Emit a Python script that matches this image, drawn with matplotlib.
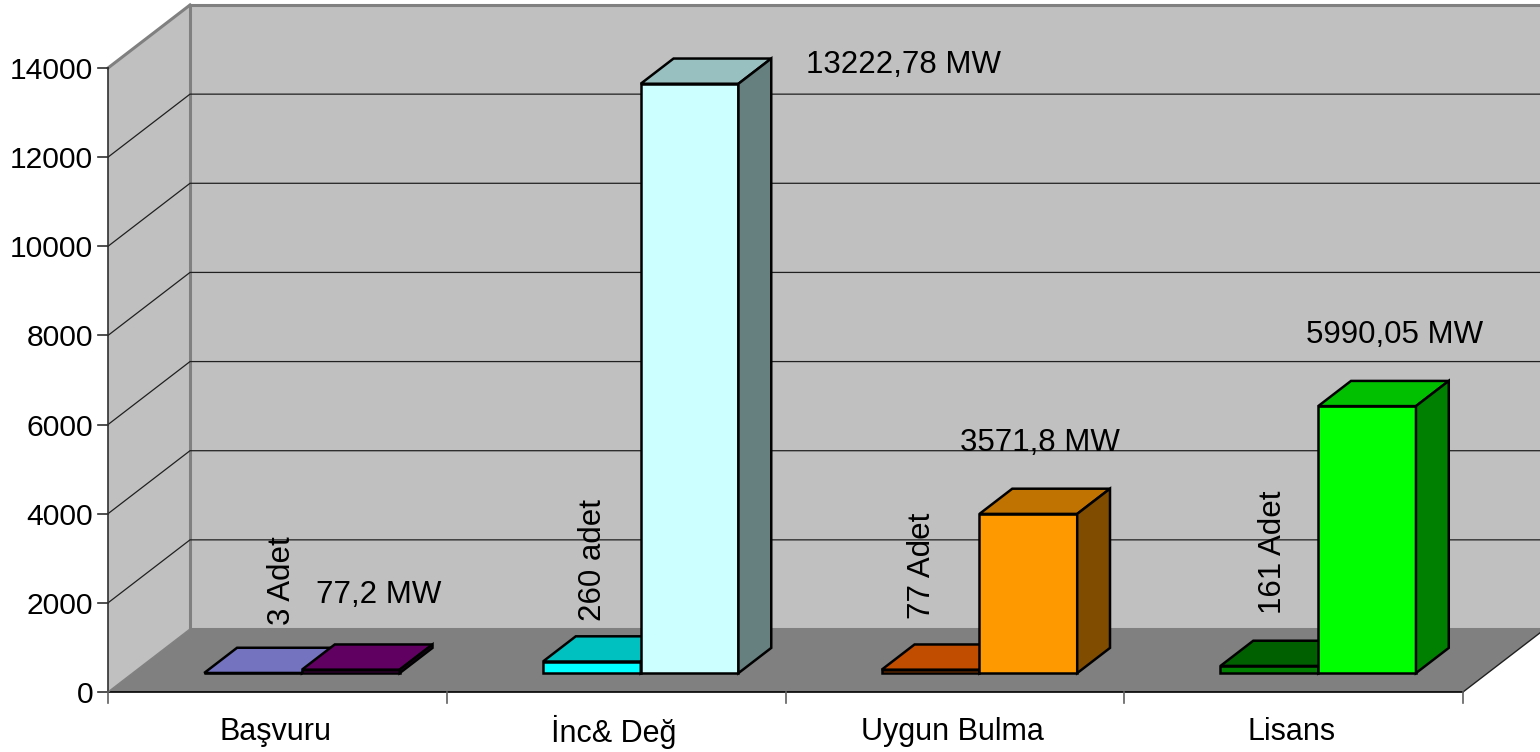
# 3D-look column chart, drawn by hand with an oblique projection
import matplotlib
matplotlib.use('Agg')
import matplotlib.pyplot as plt
from matplotlib.patches import Polygon, Rectangle

plt.rcParams['font.family'] = ['Liberation Sans', 'DejaVu Sans']

categories = ['Başvuru', 'İnc& Değ', 'Uygun Bulma', 'Lisans']
adet_values = [3, 260, 77, 161]
mw_values = [77.2, 13222.78, 3571.8, 5990.05]
adet_labels = ['3 Adet', '260 adet', '77 Adet', '161 Adet']
mw_labels = ['77,2 MW', '13222,78 MW', '3571,8 MW', '5990,05 MW']
y_ticks = [0, 2000, 4000, 6000, 8000, 10000, 12000, 14000]

# Colours: front, top, side
adet_colors = [('#9999ff', '#7373c0', '#4d4d80'),
               ('#00ffff', '#00c0c0', '#008080'),
               ('#ff6600', '#c04d00', '#803300'),
               ('#008000', '#006000', '#004000')]
mw_colors = [('#800080', '#600060', '#400040'),
             ('#ccffff', '#99c0c0', '#668080'),
             ('#ff9900', '#c07300', '#804d00'),
             ('#00ff00', '#00c000', '#008000')]

# Projection constants, in pixels
X0 = 108
Y0 = 692
CAT_W = 338.75
PX_PER_UNIT = 624 / 14000
DEPTH_X = 82
DEPTH_Y = 63
BAR_W = 0.2885
GAP = 0.2115


def project(cat, value, depth):
    # cat in category units, depth 0 = front of floor, 1 = back wall
    return (X0 + cat * CAT_W + depth * DEPTH_X,
            Y0 - value * PX_PER_UNIT - depth * DEPTH_Y)


D1 = 0.30   # bar front
D2 = 0.70   # bar back
n = len(categories)
ymax = y_ticks[-1]

fig = plt.figure(figsize=(15.4, 7.52), dpi=100)
ax = fig.add_axes([0, 0, 1, 1])
ax.set_xlim(0, 1540)
ax.set_ylim(752, 0)
ax.axis('off')


def face(points, color, lw=1.8, ec='black', z=3):
    ax.add_patch(Polygon(points, closed=True, fc=color, ec=ec, lw=lw, joinstyle='miter', zorder=z))


def draw_bar(x0, x1, v, colors, z):
    face([project(x0, 0, D1), project(x1, 0, D1), project(x1, v, D1), project(x0, v, D1)], colors[0], z=z)
    face([project(x0, v, D1), project(x1, v, D1), project(x1, v, D2), project(x0, v, D2)], colors[1], z=z)
    face([project(x1, 0, D1), project(x1, 0, D2), project(x1, v, D2), project(x1, v, D1)], colors[2], z=z)


# Walls and floor
wall_edge = '#808080'
face([project(0, 0, 0), project(0, 0, 1), project(n, 0, 1), project(n, 0, 0)], '#808080', lw=0, ec='none', z=1)
face([project(0, 0, 1), project(0, ymax, 1), project(n, ymax, 1), project(n, 0, 1)], '#c0c0c0', lw=0, ec='none', z=1)
face([project(0, 0, 0), project(0, ymax, 0), project(0, ymax, 1), project(0, 0, 1)], '#c0c0c0', lw=0, ec='none', z=1)

for a, b in [(project(0, ymax, 0), project(0, ymax, 1)),
             (project(0, 0, 1), project(0, ymax, 1)),
             (project(0, ymax, 1), project(n, ymax, 1)),
             (project(0, 0, 1), project(n, 0, 1))]:
    ax.plot([a[0], b[0]], [a[1], b[1]], color=wall_edge, lw=2.2, zorder=2)

# Gridlines
for t in y_ticks[1:-1]:
    a, b, c = project(0, t, 0), project(0, t, 1), project(n, t, 1)
    ax.plot([a[0], b[0], c[0]], [a[1], b[1], c[1]], color='#202020', lw=0.9, zorder=2)

# Axes lines and ticks
a, b = project(0, 0, 0), project(0, ymax, 0)
ax.plot([a[0], b[0]], [a[1], b[1]], color='#303030', lw=1.2, zorder=2)
a, b = project(0, 0, 0), project(n, 0, 0)
ax.plot([a[0], b[0]], [a[1], b[1]], color='black', lw=1.2, zorder=2)
a, b = project(n, 0, 0), project(n, 0, 1)
ax.plot([a[0], b[0]], [a[1], b[1]], color='#202020', lw=1.0, zorder=2)
a, b = project(0, 0, 0), project(0, 0, 1)
ax.plot([a[0], b[0]], [a[1], b[1]], color='#808080', lw=1.0, zorder=2)

for t in y_ticks:
    px, py = project(0, t, 0)
    ax.plot([px - 10, px], [py, py], color='#303030', lw=1.2, zorder=2)
    ax.text(px - 15, py + 3, str(t), ha='right', va='center', fontsize=21.6, color='black', zorder=6)

for i in range(n + 1):
    px, py = project(i, 0, 0)
    ax.plot([px, px], [py, py + 11], color='#606060', lw=1.2, zorder=2)

# Bars and labels
mw_offsets = [(-19, -69), (132, -14), (-52, -66), (-45, -66)]
adet_nudge = [26, -2, -12, 0]
adet_tops = [536, 499, 513, 491]
floor_y = project(0, 0, 1)[1]
wall_clip = Rectangle((0, 0), 1540, floor_y, transform=ax.transData)
for i in range(n):
    x0 = i + GAP
    xm = x0 + BAR_W
    x1 = xm + BAR_W
    draw_bar(x0, xm, adet_values[i], adet_colors[i], 3)
    draw_bar(xm, x1, mw_values[i], mw_colors[i], 4)

    px, py = project(i + 0.5, 0, 0)
    ax.text(px - 2, 732, categories[i], ha='center', va='center', fontsize=22, color='black', zorder=6)

    lx, ly = project(xm, mw_values[i], D2)
    ax.text(lx + mw_offsets[i][0], ly + mw_offsets[i][1] + 20, mw_labels[i], ha='left', va='center',
            fontsize=22.5, color='black', zorder=6)
    lab = ax.text(project(xm, 0, 0)[0] - 21 + adet_nudge[i], adet_tops[i], adet_labels[i], rotation=90,
                  ha='center', va='top', fontsize=22.5, color='black', zorder=6)
    lab.set_clip_path(wall_clip)
    lab.set_clip_on(True)

fig.savefig('out.png', dpi=100)
